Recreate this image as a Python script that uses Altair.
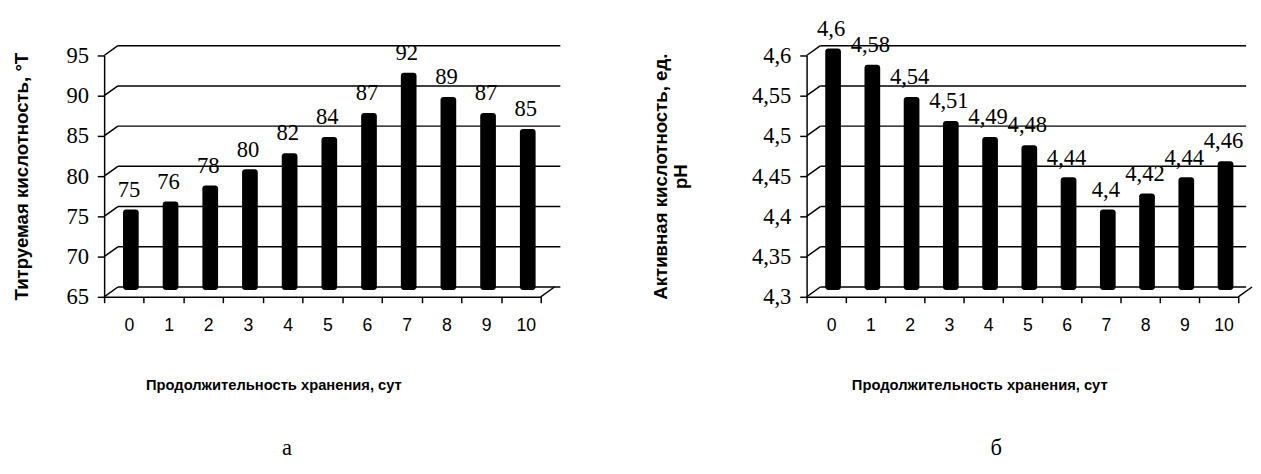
import altair as alt
import pandas as pd

days = ["0", "1", "2", "3", "4", "5", "6", "7", "8", "9", "10"]
titr = [75, 76, 78, 80, 82, 84, 87, 92, 89, 87, 85]
ph = [4.6, 4.58, 4.54, 4.51, 4.49, 4.48, 4.44, 4.4, 4.42, 4.44, 4.46]
ticks_a = [65, 70, 75, 80, 85, 90, 95]
ticks_b = [4.3, 4.35, 4.4, 4.45, 4.5, 4.55, 4.6]

x_title = "Продолжительность хранения, сут"
y_title_a = "Титруемая кислотность, °Т"
y_title_b = ["Активная кислотность, ед.", "pH"]

SERIF = "Liberation Serif"
SANS = "Liberation Sans"


def panel(values, ticks, ytitle, ytitle_pad, width, height, grid_extra, xtitle_shift,
          letter, letter_dx):
    df = pd.DataFrame({
        "day": days,
        "v": values,
        "label": [f"{v:g}".replace(".", ",") for v in values],
    })
    tdf = pd.DataFrame({"v": ticks})
    fdf = pd.DataFrame({"v": [ticks[0]]})
    lo, hi = ticks[0], ticks[-1]
    yscale = alt.Scale(domain=[lo, hi], zero=False, nice=False)
    yaxis = alt.Axis(
        values=ticks, grid=False, domainColor="black", domainWidth=1.5,
        tickColor="black", tickSize=7, tickWidth=1.5, labelPadding=9,
        labelFont=SERIF, labelFontSize=23, labelColor="black",
        labelExpr="replace(format(datum.value, '~g'), '.', ',')",
        title=ytitle, titleFont=SANS, titleFontSize=19, titleFontWeight="bold",
        titleColor="black", titlePadding=ytitle_pad,
    )

    def Y():
        return alt.Y("v:Q", scale=yscale, axis=yaxis)

    xaxis = alt.Axis(
        tickBand="extent", domainColor="black", domainWidth=1.5,
        tickColor="black", tickSize=6, tickWidth=1.5, labelAngle=0,
        labelFont=SANS, labelFontSize=18, labelColor="black",
        labelPadding=14, labelOffset=5,
        title=x_title, titleFont=SANS, titleFontSize=15, titleFontWeight="bold",
        titleColor="black", titlePadding=44, titleX=width / 2 + xtitle_shift,
    )
    X = alt.X("day:N", sort=days, scale=alt.Scale(paddingInner=0, paddingOuter=0), axis=xaxis)

    grid = alt.Chart(tdf).mark_rule(color="black", strokeWidth=1.5, yOffset=-10).encode(
        y=Y(), x=alt.value(14), x2=alt.value(width + grid_extra)
    )
    conn = alt.Chart(tdf).mark_rule(color="black", strokeWidth=1.5, y2Offset=-10).encode(
        y=Y(), y2=alt.Y2("v:Q"), x=alt.value(0), x2=alt.value(14)
    )
    floor_end = alt.Chart(fdf).mark_rule(color="black", strokeWidth=1.5, y2Offset=-10).encode(
        y=Y(), y2=alt.Y2("v:Q"), x=alt.value(width), x2=alt.value(width + 14)
    )
    bars = alt.Chart(df).mark_bar(
        color="black", size=16, xOffset=7, yOffset=-7, y2Offset=-7, cornerRadius=3
    ).encode(x=X, y=Y(), y2=alt.Y2(datum=lo))
    text = alt.Chart(df).mark_text(
        font=SERIF, fontSize=23, color="black", baseline="alphabetic", dx=5, dy=-20
    ).encode(x=X, y=Y(), text="label:N")

    return alt.layer(grid, conn, floor_end, bars, text).properties(
        width=width, height=height,
        title=alt.TitleParams(
            text=letter, orient="bottom", font=SERIF, fontSize=23, fontWeight="normal",
            color="black", anchor="middle", frame="bounds", offset=46, dx=letter_dx,
        ),
    )


a = panel(titr, ticks_a, y_title_a, 35, 445, 246, 20, -50, "а", 0)
b = panel(ph, ticks_b, y_title_b, 62, 440, 246, 8, -44, "б", 45)

chart = alt.hconcat(a, b, spacing=91).properties(
    padding={"left": 4, "top": 6, "right": 0, "bottom": 0}
).configure_view(stroke=None)

chart.save("out.html", embed_options={"renderer": "svg", "actions": False})
